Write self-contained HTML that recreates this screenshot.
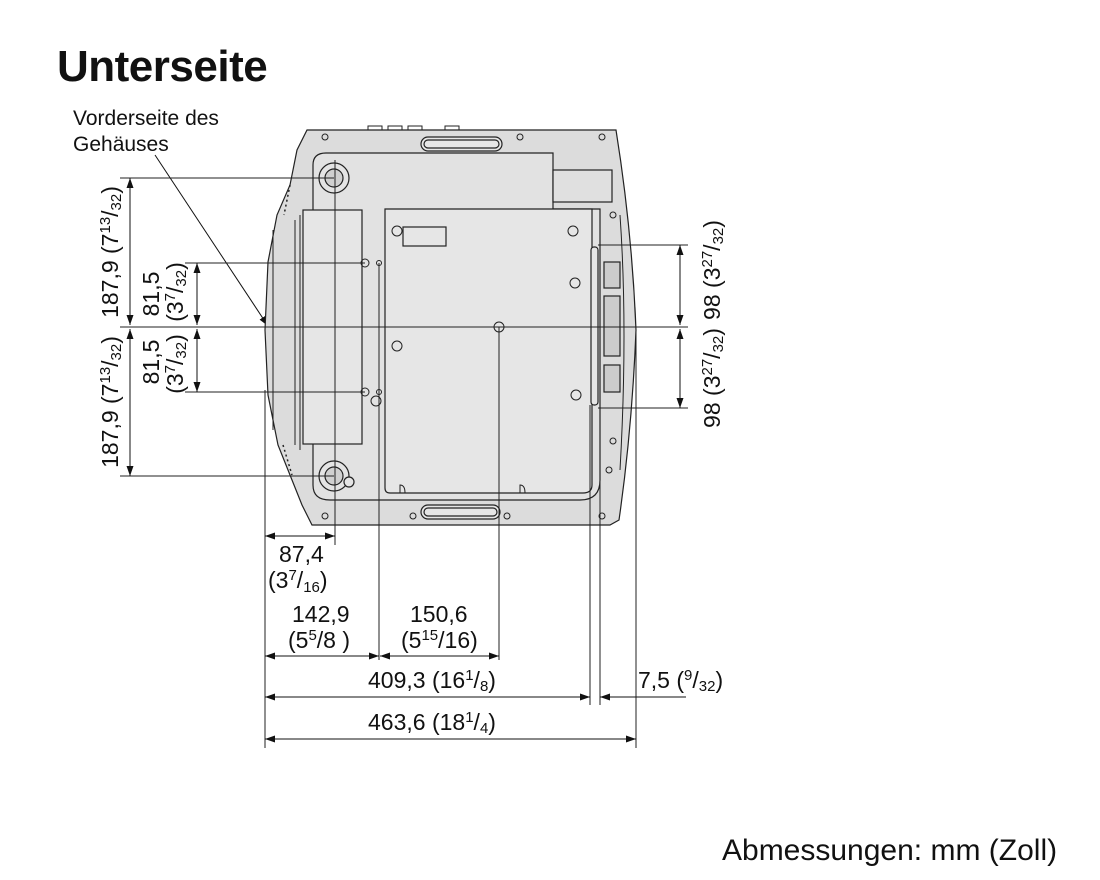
<!DOCTYPE html>
<html><head><meta charset="utf-8"><style>
html,body{margin:0;padding:0;background:#fff}
svg{display:block}
text{font-family:"Liberation Sans","DejaVu Sans",sans-serif;fill:#111}
</style></head><body>
<svg width="1100" height="880" viewBox="0 0 1100 880" xmlns="http://www.w3.org/2000/svg">
<defs>
<marker id="a" viewBox="0 0 10 10" refX="10" refY="5" markerWidth="10" markerHeight="10" markerUnits="userSpaceOnUse" orient="auto-start-reverse"><path d="M0,1.5 L10,5 L0,8.5 Z" fill="#111"/></marker>
</defs>
<text x="57" y="81" font-size="44" font-weight="bold" style="letter-spacing:-0.5px">Unterseite</text>
<text x="73" y="125" font-size="21">Vorderseite des</text>
<text x="73" y="151" font-size="21">Gehäuses</text>
<line x1="155" y1="155" x2="268" y2="326" stroke="#111" stroke-width="1" marker-end="url(#a)"/>

<g stroke="#222" stroke-width="1.2" fill="#e4e4e4">
<path d="M307,130 L616,130 Q632,230 636,330 Q632,430 619,520 L610,525 L312,525 L302,505 L290,475 L278,445 L268,395 L265,330 L268,262 L277,215 L290,185 L297,150 Z" fill="#dcdcdc"/>
<path d="M313,165 Q313,153 326,153 L553,153 L553,209 L600,209 L600,480 Q600,500 580,500 L330,500 Q313,500 313,485 Z" fill="#e2e2e2"/>
<path d="M385,209 L592,209 L592,485 Q592,493 583,493 L390,493 Q385,493 385,488 Z" fill="#e6e6e6"/>
<rect x="303" y="210" width="59" height="234" fill="#e6e6e6"/>
<rect x="553" y="170" width="59" height="32" fill="#e0e0e0"/>
<rect x="421" y="137" width="81" height="14" rx="7" fill="#e6e6e6"/>
<rect x="424" y="140" width="75" height="8" rx="4" fill="none"/>
<rect x="421" y="505" width="79" height="14" rx="7" fill="#e6e6e6"/>
<rect x="424" y="508" width="73" height="8" rx="4" fill="none"/>
<rect x="591" y="247" width="7" height="158" rx="3" fill="#e6e6e6"/>
<rect x="604" y="262" width="16" height="26" fill="#ccc"/>
<rect x="604" y="296" width="16" height="60" fill="#ccc"/>
<rect x="604" y="365" width="16" height="27" fill="#ccc"/>
<rect x="403" y="227" width="43" height="19" fill="#e6e6e6"/>
<circle cx="334" cy="178" r="15"/><circle cx="334" cy="178" r="9" fill="#d0d0d0"/>
<circle cx="334" cy="476" r="15"/><circle cx="334" cy="476" r="9" fill="#d0d0d0"/>
<circle cx="349" cy="482" r="5"/>
</g>
<g stroke="#222" stroke-width="1" fill="none">
<path d="M300,215 L300,450 M295,220 L295,445"/>
<path d="M273,230 L273,430"/>
<path d="M620,215 Q628,330 620,470"/>
<circle cx="325" cy="137" r="3"/><circle cx="520" cy="137" r="3"/><circle cx="602" cy="137" r="3"/>
<circle cx="325" cy="516" r="3"/><circle cx="413" cy="516" r="3"/><circle cx="507" cy="516" r="3"/><circle cx="602" cy="516" r="3"/>
<circle cx="397" cy="231" r="5"/><circle cx="573" cy="231" r="5"/><circle cx="575" cy="283" r="5"/>
<circle cx="397" cy="346" r="5"/><circle cx="576" cy="395" r="5"/><circle cx="613" cy="215" r="3"/>
<circle cx="613" cy="441" r="3"/><circle cx="609" cy="470" r="3"/>
<circle cx="376" cy="401" r="5"/>
<circle cx="365" cy="263" r="4"/><circle cx="365" cy="392" r="4"/>
<circle cx="379" cy="263" r="2.5"/><circle cx="379" cy="392" r="2.5"/>
<circle cx="499" cy="327" r="5"/>
<path d="M400,493 L400,485 Q405,485 405,493 M520,493 L520,485 Q525,485 525,493"/>
<path d="M368,130 L368,126 L382,126 L382,130 M388,130 L388,126 L402,126 L402,130 M408,130 L408,126 L422,126 L422,130 M445,130 L445,126 L459,126 L459,130"/>
</g>
<g stroke="#222" stroke-width="1.5" stroke-dasharray="2 3" fill="none">
<path d="M290,185 L284,215 M283,445 L292,475"/>
</g>

<g stroke="#222" stroke-width="1" fill="none">
<line x1="120" y1="178" x2="334" y2="178"/>
<line x1="120" y1="327" x2="688" y2="327"/>
<line x1="120" y1="476" x2="334" y2="476"/>
<line x1="185" y1="263" x2="365" y2="263"/>
<line x1="185" y1="392" x2="365" y2="392"/>
<line x1="598" y1="245" x2="688" y2="245"/>
<line x1="598" y1="408" x2="688" y2="408"/>
<line x1="265" y1="390" x2="265" y2="748"/>
<line x1="335" y1="160" x2="335" y2="545"/>
<line x1="379" y1="263" x2="379" y2="660"/>
<line x1="499" y1="327" x2="499" y2="660"/>
<line x1="590" y1="405" x2="590" y2="705"/>
<line x1="600" y1="460" x2="600" y2="705"/>
<line x1="636" y1="330" x2="636" y2="748"/>
</g>
<g stroke="#111" stroke-width="1" marker-start="url(#a)" marker-end="url(#a)">
<line x1="130" y1="178" x2="130" y2="325"/>
<line x1="130" y1="329" x2="130" y2="476"/>
<line x1="197" y1="263" x2="197" y2="325"/>
<line x1="197" y1="329" x2="197" y2="392"/>
<line x1="680" y1="245" x2="680" y2="325"/>
<line x1="680" y1="329" x2="680" y2="408"/>
<line x1="265" y1="536" x2="335" y2="536"/>
<line x1="265" y1="656" x2="379" y2="656"/>
<line x1="380" y1="656" x2="499" y2="656"/>
<line x1="265" y1="697" x2="590" y2="697"/>
<line x1="265" y1="739" x2="636" y2="739"/>
</g>
<line x1="686" y1="697" x2="600" y2="697" stroke="#111" stroke-width="1" marker-end="url(#a)"/>

<g font-size="23">
<text transform="translate(118,252) rotate(-90)" text-anchor="middle">187,9 (7<tspan font-size="15" dy="-8">13</tspan><tspan dy="8">/</tspan><tspan font-size="15" dy="3">32</tspan><tspan dy="-3">)</tspan></text>
<text transform="translate(118,402) rotate(-90)" text-anchor="middle">187,9 (7<tspan font-size="15" dy="-8">13</tspan><tspan dy="8">/</tspan><tspan font-size="15" dy="3">32</tspan><tspan dy="-3">)</tspan></text>
<text transform="translate(159,294) rotate(-90)" text-anchor="middle">81,5</text>
<text transform="translate(183,292) rotate(-90)" text-anchor="middle">(3<tspan font-size="15" dy="-8">7</tspan><tspan dy="8">/</tspan><tspan font-size="15" dy="3">32</tspan><tspan dy="-3">)</tspan></text>
<text transform="translate(159,362) rotate(-90)" text-anchor="middle">81,5</text>
<text transform="translate(183,364) rotate(-90)" text-anchor="middle">(3<tspan font-size="15" dy="-8">7</tspan><tspan dy="8">/</tspan><tspan font-size="15" dy="3">32</tspan><tspan dy="-3">)</tspan></text>
<text transform="translate(720,270) rotate(-90)" text-anchor="middle">98 (3<tspan font-size="15" dy="-8">27</tspan><tspan dy="8">/</tspan><tspan font-size="15" dy="3">32</tspan><tspan dy="-3">)</tspan></text>
<text transform="translate(720,378) rotate(-90)" text-anchor="middle">98 (3<tspan font-size="15" dy="-8">27</tspan><tspan dy="8">/</tspan><tspan font-size="15" dy="3">32</tspan><tspan dy="-3">)</tspan></text>
</g>
<g font-size="23">
<text x="279" y="562">87,4</text>
<text x="268" y="588">(3<tspan font-size="15" dy="-8">7</tspan><tspan dy="8">/</tspan><tspan font-size="15" dy="4">16</tspan><tspan dy="-4">)</tspan></text>
<text x="292" y="622">142,9</text>
<text x="288" y="648">(5<tspan font-size="15" dy="-8">5</tspan><tspan dy="8">/8 )</tspan></text>
<text x="410" y="622">150,6</text>
<text x="401" y="648">(5<tspan font-size="15" dy="-8">15</tspan><tspan dy="8">/16)</tspan></text>
<text x="368" y="688">409,3 (16<tspan font-size="15" dy="-8">1</tspan><tspan dy="8">/</tspan><tspan font-size="15" dy="3">8</tspan><tspan dy="-3">)</tspan></text>
<text x="638" y="688">7,5 (<tspan font-size="15" dy="-8">9</tspan><tspan dy="8">/</tspan><tspan font-size="15" dy="3">32</tspan><tspan dy="-3">)</tspan></text>
<text x="368" y="730">463,6 (18<tspan font-size="15" dy="-8">1</tspan><tspan dy="8">/</tspan><tspan font-size="15" dy="3">4</tspan><tspan dy="-3">)</tspan></text>
</g>
<text x="722" y="860" font-size="30">Abmessungen: mm (Zoll)</text>
</svg>
</body></html>
